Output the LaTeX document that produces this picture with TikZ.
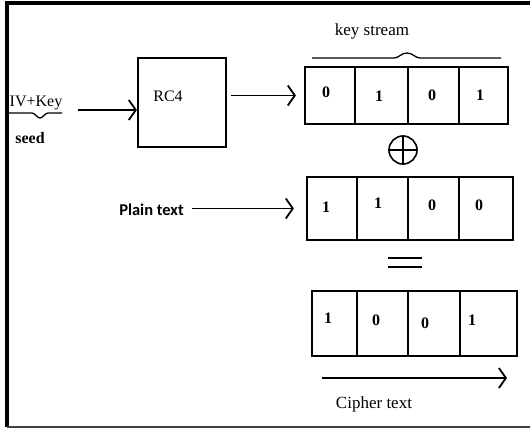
\documentclass[tikz,border=0pt]{standalone}
\usepackage{fontspec}
\setmainfont{Liberation Serif}[BoldFont={Liberation Serif Bold}]
\newfontfamily\labelfont{Carlito}
\usetikzlibrary{arrows,arrows.meta}

\tikzset{
 box/.style={draw,line width=2.2pt,inner sep=0pt},
 arr/.style={-{Straight Barb[length=7pt,width=20pt]},line width=1.8pt},
 digit/.style={anchor=base,inner sep=0pt,font=\fontsize{16}{18}\selectfont\bfseries},
 txt/.style={anchor=base,inner sep=0pt}
}

\begin{document}
\begin{tikzpicture}[x=1pt,y=-1pt]
 \useasboundingbox (0,0) rectangle (530,429);
 % frame
 \draw [line width=3.5pt] (530,3) -- (7,3) -- (7,427);
 \draw [line width=1.5pt,black!75] (7,427) -- (530,427);

 % seed and RC4
 \node [txt,font=\fontsize{16}{18}\selectfont] (X1) at (36,106) {IV+Key};
 \node [txt,font=\fontsize{16}{18}\selectfont\bfseries] (X2) at (30,143) {seed};
 \draw [line width=1.3pt] (8,113) -- (32,113) .. controls (35,113) and (37,118) .. (40,118)
  .. controls (43,118) and (45,113) .. (48,113) -- (62,113);
 \node [box,minimum width=88pt,minimum height=89pt] (X3) at (182,102.5) {};
 \node [txt,font=\fontsize{16}{18}\selectfont] (X4) at (168,101) {RC4};
 \coordinate (X5) at (78,110);
 \draw [arr] (X5) -- (X5 -| X3.west);

 % key stream
 \node [txt,font=\fontsize{17}{19}\selectfont] (X6) at (372,35) {key stream};
 \draw [line width=1.3pt] (312,58) -- (394,58) .. controls (399,58) and (401,53) .. (407,53)
  .. controls (413,53) and (415,58) .. (420,58) -- (501,58);
 \node [box,minimum width=203pt,minimum height=57pt] (K) at (406.5,95.5) {};
 \foreach \x in {355,408,459} \draw [line width=2.2pt] (\x,67) -- (\x,124);
 \node [digit] (K1) at (326,97) {0};
 \node [digit] (K2) at (379,101) {1};
 \node [digit] (K3) at (432,100) {0};
 \node [digit] (K4) at (480,100) {1};
 \draw [arr,shorten <=4pt,shorten >=8pt] (X3.east |- K.west) -- (K.west);

 % xor
 \node [circle,draw,line width=1.6pt,minimum size=28pt,inner sep=0pt] (XOR) at (403,150) {};
 \draw [line width=1.6pt] (XOR.north) -- (XOR.south) (XOR.west) -- (XOR.east);

 % plain text
 \node [txt,font=\fontsize{16.5}{18}\selectfont\labelfont\bfseries] (P) at (151.5,215) {Plain text};
 \node [box,minimum width=206pt,minimum height=63pt] (PT) at (410,208.5) {};
 \foreach \x in {357,408,459} \draw [line width=2.2pt] (\x,177) -- (\x,240);
 \node [digit] (P1) at (326,212) {1};
 \node [digit] (P2) at (378,208) {1};
 \node [digit] (P3) at (432,210) {0};
 \node [digit] (P4) at (479,210) {0};
 \draw [arr,shorten <=8pt,shorten >=12pt] (P.east |- PT.west) -- (PT.west);

 % equals
 \node [inner sep=0pt,minimum width=34pt,minimum height=9pt] (EQ) at (405,262.5) {};
 \draw [line width=2.5pt] (EQ.north west) -- (EQ.north east) (EQ.south west) -- (EQ.south east);

 % cipher text
 \node [box,minimum width=205pt,minimum height=65pt] (C) at (414.5,323.5) {};
 \foreach \x in {357,408,460} \draw [line width=2.2pt] (\x,291) -- (\x,356);
 \node [digit] (C1) at (328,323) {1};
 \node [digit] (C2) at (376,325) {0};
 \node [digit] (C3) at (425,328) {0};
 \node [digit] (C4) at (472,325) {1};
 \coordinate (C5) at (322,378);
 \coordinate (C6) at (507,378);
 \draw [arr] (C5) -- (C6);
 \node [txt,font=\fontsize{17}{19}\selectfont] (CT) at (374,408) {Cipher text};
\end{tikzpicture}
\end{document}
